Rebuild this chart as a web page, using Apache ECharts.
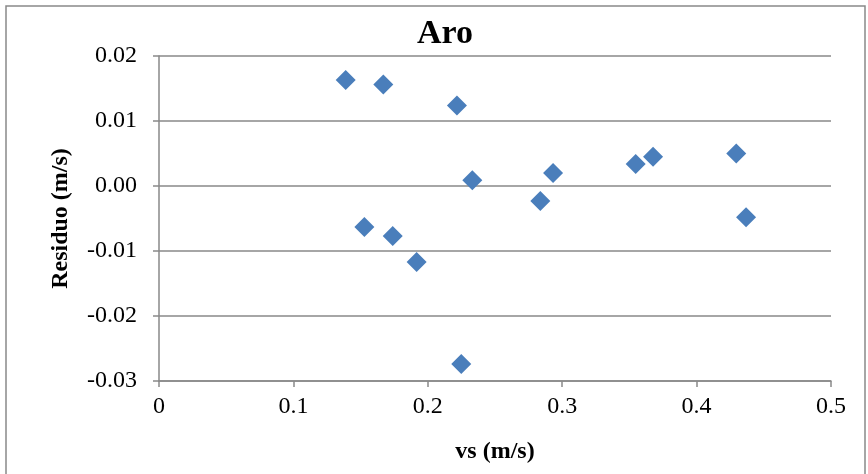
<!DOCTYPE html>
<html>
<head>
<meta charset="utf-8">
<script src="https://cdn.jsdelivr.net/npm/echarts@6/dist/echarts.min.js"></script>
<style>
html,body{margin:0;padding:0;background:#fff;}
#chart{width:868px;height:474px;}
</style>
</head>
<body>
<div id="chart"></div>
<script>
var chartTitle = 'Aro';
var xAxisTitle = 'vs (m/s)';
var yAxisTitle = 'Residuo (m/s)';
var vsValues = [0.1389, 0.1669, 0.2217, 0.2331, 0.1528, 0.1739, 0.1917, 0.2249, 0.2837, 0.2932, 0.3547, 0.3676, 0.4295, 0.4368];
var residuoValues = [0.0163, 0.0156, 0.0124, 0.0009, -0.0063, -0.0077, -0.0117, -0.0274, -0.0023, 0.0020, 0.0034, 0.0045, 0.0050, -0.0048];

var points = vsValues.map(function (v, i) { return [v, residuoValues[i]]; });

var chart = echarts.init(document.getElementById('chart'));
var serif = '"Liberation Serif", "Times New Roman", serif';
var gray = '#898989';
chart.setOption({
  animation: false,
  backgroundColor: '#fff',
  graphic: [{
    type: 'rect',
    shape: { x: 6, y: 6, width: 859, height: 480 },
    style: { fill: 'none', stroke: gray, lineWidth: 1.5 },
    silent: true
  }],
  title: {
    text: chartTitle,
    left: 417,
    top: 17,
    padding: 0,
    textStyle: { fontFamily: serif, fontWeight: 'bold', fontSize: 34, color: '#000' }
  },
  grid: { left: 159, right: 37, top: 56, bottom: 93, containLabel: false },
  xAxis: {
    type: 'value',
    min: 0, max: 0.5, interval: 0.1,
    name: xAxisTitle,
    nameLocation: 'middle',
    nameGap: 59,
    nameTextStyle: { fontFamily: serif, fontWeight: 'bold', fontSize: 24, color: '#000' },
    axisLine: { show: true, onZero: false, lineStyle: { color: gray, width: 1.5 } },
    axisTick: { show: true, inside: false, length: 6, lineStyle: { color: gray, width: 1.5 } },
    axisLabel: { fontFamily: serif, fontSize: 24, color: '#000', margin: 14,
      formatter: function (v) { return v === 0 ? '0' : String(Math.round(v * 10) / 10); } },
    splitLine: { show: false }
  },
  yAxis: {
    type: 'value',
    min: -0.03, max: 0.02, interval: 0.01,
    name: yAxisTitle,
    nameLocation: 'middle',
    nameGap: 86,
    nameRotate: 90,
    nameTextStyle: { fontFamily: serif, fontWeight: 'bold', fontSize: 24, color: '#000' },
    axisLine: { show: true, lineStyle: { color: gray, width: 1.5 } },
    axisTick: { show: true, inside: false, length: 6, lineStyle: { color: gray, width: 1.5 } },
    axisLabel: { fontFamily: serif, fontSize: 24, color: '#000', margin: 22,
      formatter: function (v) { return (Math.round(v * 100) / 100).toFixed(2); } },
    splitLine: { show: true, lineStyle: { color: gray, width: 1.5 } }
  },
  series: [{
    type: 'scatter',
    data: points,
    symbol: 'diamond',
    symbolSize: 20,
    itemStyle: { color: '#4A7EBB', opacity: 1 }
  }]
});
</script>
</body>
</html>
